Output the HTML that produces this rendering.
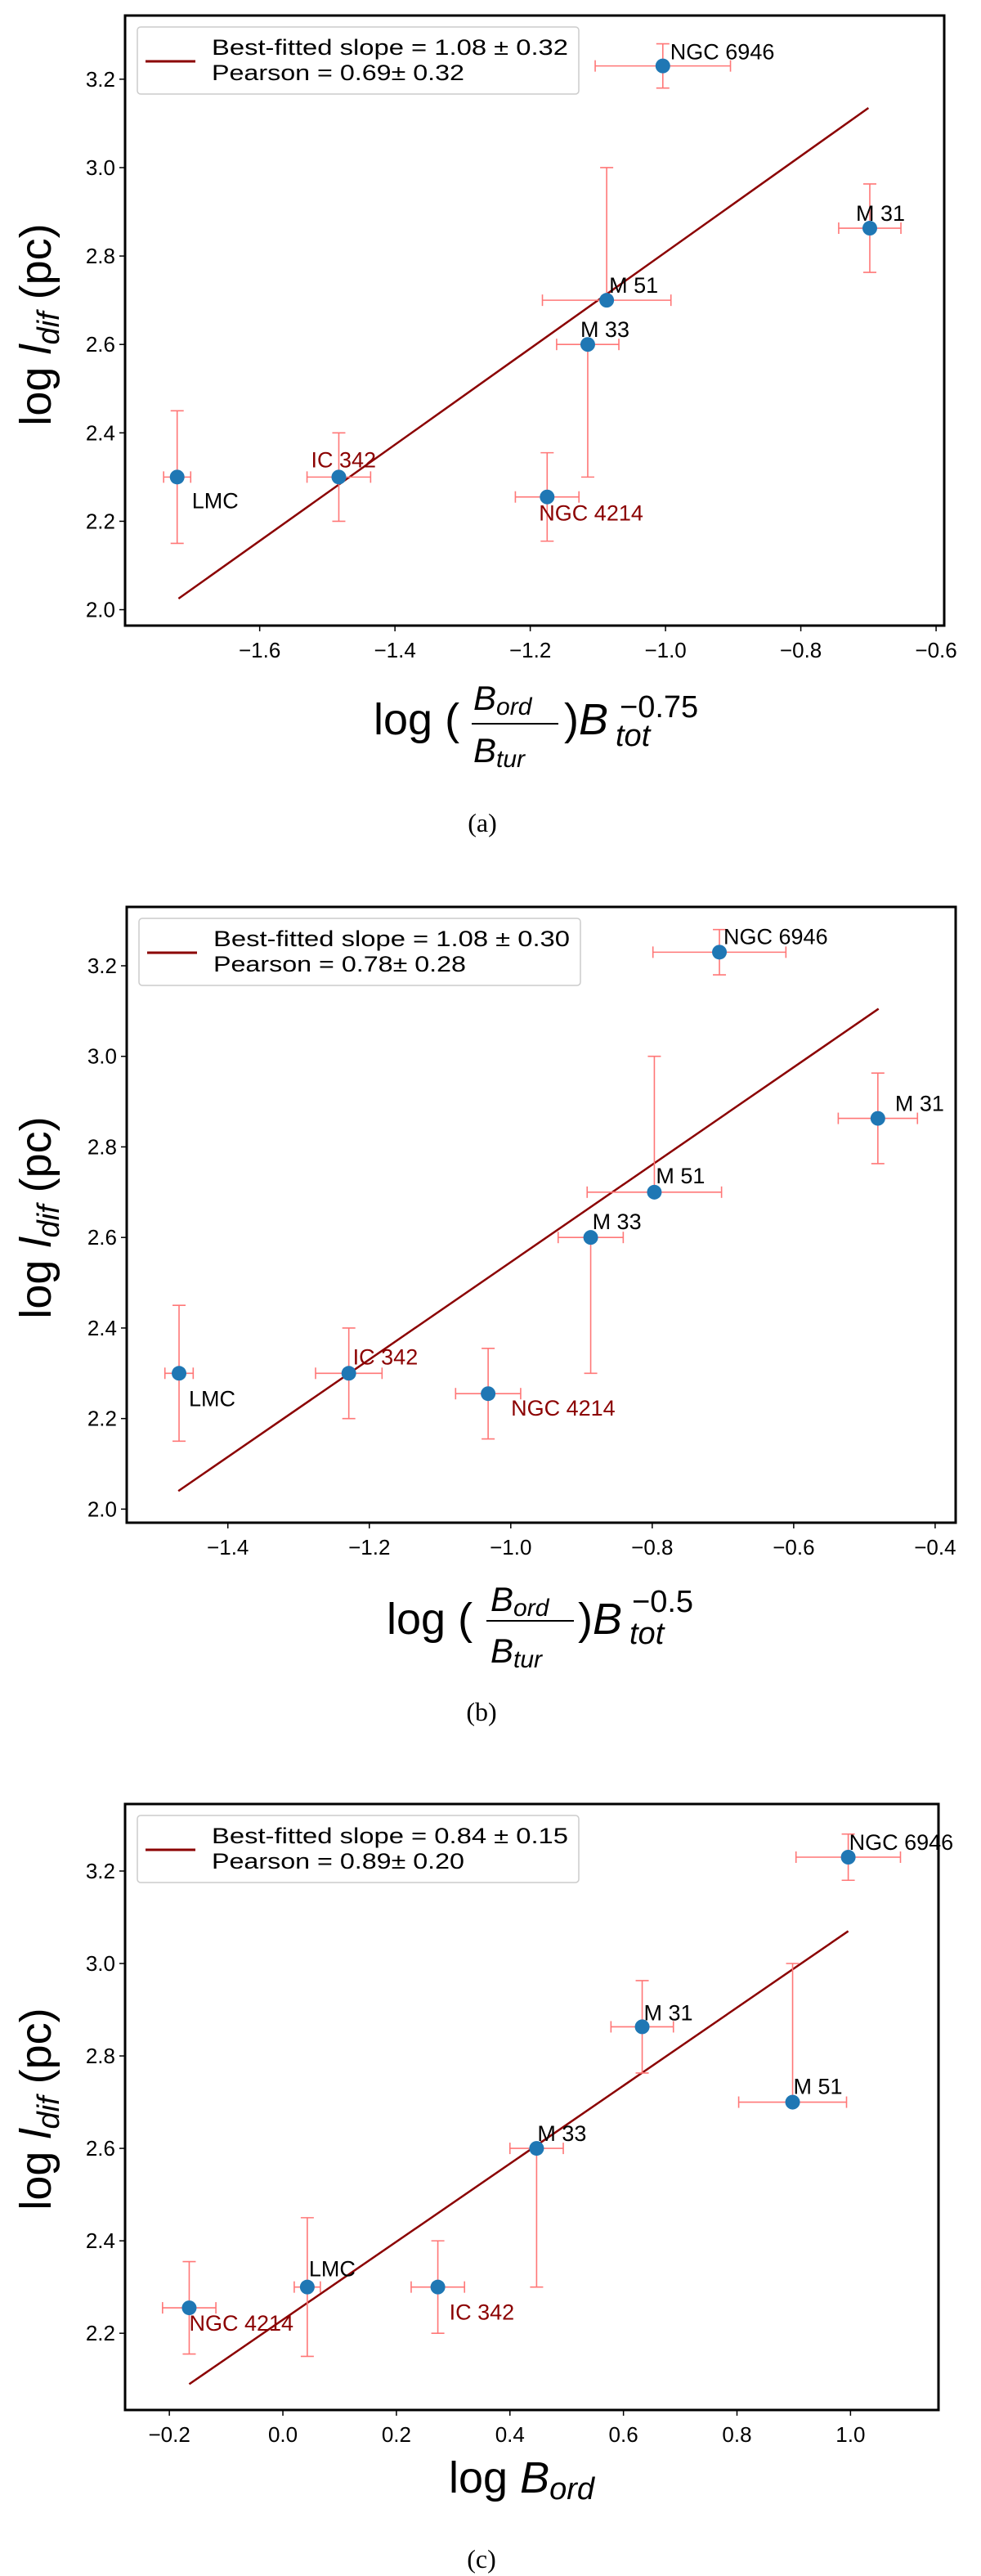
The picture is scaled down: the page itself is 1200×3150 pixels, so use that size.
<!DOCTYPE html>
<html><head><meta charset="utf-8"><style>
html,body{margin:0;padding:0;background:#fff;}
svg{display:block;font-family:"Liberation Sans","DejaVu Sans",sans-serif;}
</style></head><body>
<svg id="fig" width="1200" height="3150" viewBox="0 0 1200 3150" xmlns="http://www.w3.org/2000/svg"></svg>
<script>
// ---------- data ----------
const galaxiesA = ["LMC","IC 342","NGC 4214","M 33","M 51","NGC 6946","M 31"];
const xA   = [-1.722,-1.483,-1.175,-1.115,-1.087,-1.004,-0.698];
const yA   = [2.30,2.30,2.255,2.60,2.70,3.23,2.863];
const xerrA= [0.02,0.047,0.047,0.046,0.095,0.10,0.046];
const yLoA = [0.15,0.10,0.10,0.30,0.0,0.05,0.10];
const yHiA = [0.15,0.10,0.10,0.0,0.30,0.05,0.10];
const fitXA = [-1.72,-0.70];
const fitYA = [2.025,3.135];
const legendA = ["Best-fitted slope = 1.08 \u00b1 0.32","Pearson = 0.69\u00b1 0.32"];

const galaxiesB = ["LMC","IC 342","NGC 4214","M 33","M 51","NGC 6946","M 31"];
const xB   = [-1.469,-1.229,-1.032,-0.887,-0.797,-0.705,-0.481];
const yB   = [2.30,2.30,2.255,2.60,2.70,3.23,2.863];
const xerrB= [0.02,0.047,0.046,0.046,0.095,0.094,0.056];
const yLoB = [0.15,0.10,0.10,0.30,0.0,0.05,0.10];
const yHiB = [0.15,0.10,0.10,0.0,0.30,0.05,0.10];
const fitXB = [-1.47,-0.48];
const fitYB = [2.04,3.105];
const legendB = ["Best-fitted slope = 1.08 \u00b1 0.30","Pearson = 0.78\u00b1 0.28"];

const galaxiesC = ["NGC 4214","LMC","IC 342","M 33","M 31","M 51","NGC 6946"];
const xC   = [-0.165,0.043,0.273,0.447,0.633,0.898,0.996];
const yC   = [2.255,2.30,2.30,2.60,2.863,2.70,3.23];
const xerrC= [0.047,0.023,0.047,0.047,0.055,0.095,0.092];
const yLoC = [0.10,0.15,0.10,0.30,0.10,0.0,0.05];
const yHiC = [0.10,0.15,0.10,0.0,0.10,0.30,0.05];
const fitXC = [-0.165,0.996];
const fitYC = [2.09,3.07];
const legendC = ["Best-fitted slope = 0.84 \u00b1 0.15","Pearson = 0.89\u00b1 0.20"];

const yTicks = [2.0,2.2,2.4,2.6,2.8,3.0,3.2];
const xTicksA = [-1.6,-1.4,-1.2,-1.0,-0.8,-0.6];
const xTicksB = [-1.4,-1.2,-1.0,-0.8,-0.6,-0.4];
const xTicksC = [-0.2,0.0,0.2,0.4,0.6,0.8,1.0];

// ---------- layout (not data) ----------
const labelOffA = [[18,38],[-34,-12],[-10,29],[-9,-9],[3,-9],[9,-8],[-17,-9]];
const labelOffB = [[12,40],[5,-11],[28,27],[2,-10],[2,-11],[5,-10],[21,-9]];
const labelOffC = [[0,28],[2,-13],[14,40],[1,-9],[2,-8],[1,-10],[1,-9]];
const darkLabels = ["IC 342","NGC 4214"];
const legendWidths = [436,309];

const NS="http://www.w3.org/2000/svg";
const svg=document.getElementById('fig');
function mk(tag,attrs,parent){const e=document.createElementNS(NS,tag);for(const k in attrs)e.setAttribute(k,attrs[k]);(parent||svg).appendChild(e);return e;}
function fmt(v){const s=v.toFixed(1);return v<0?'\u2212'+s.slice(1):s;}

function panel(p){
  const g=mk('g',{});
  
  
  const X=v=>p.L+(v-p.x0)/(p.x1-p.x0)*(p.R-p.L);
  const Y=v=>p.B-(v-p.y0)/(p.y1-p.y0)*(p.B-p.T);
  p.yt.forEach(t=>{
    if(t<p.y0)return;
    const y=Y(t);
    const l=mk('line',{x1:p.L-7,x2:p.L,y1:y,y2:y,stroke:'#000','stroke-width':1.5},g);
    
    
    const tx=mk('text',{x:p.L-12,y:y+9,'font-size':26,'text-anchor':'end',fill:'#000'},g);
    tx.textContent=t.toFixed(1);
    
    
  });
  p.xt.forEach(t=>{
    const x=X(t);
    const l=mk('line',{x1:x,x2:x,y1:p.B,y2:p.B+7,stroke:'#000','stroke-width':1.5},g);
    
    
    const tx=mk('text',{x:x,y:p.B+39,'font-size':26,'text-anchor':'middle',fill:'#000'},g);
    tx.textContent=fmt(t);
    
    
  });
  const fl=mk('line',{x1:X(p.fx[0]),y1:Y(p.fy[0]),x2:X(p.fx[1]),y2:Y(p.fy[1]),stroke:'#8b0000','stroke-width':2.5},g);
  
  
  const ec='#f77';
  p.xs.forEach((xv,i)=>{
    const cx=X(xv),cy=Y(p.ys[i]);
    const eg=mk('g',{stroke:ec,'stroke-width':1.6,fill:'none'},g);
    
    
    const xl=X(xv-p.xe[i]),xr=X(xv+p.xe[i]);
    mk('line',{x1:xl,x2:xr,y1:cy,y2:cy},eg);
    mk('line',{x1:xl,x2:xl,y1:cy-7,y2:cy+7},eg);
    mk('line',{x1:xr,x2:xr,y1:cy-7,y2:cy+7},eg);
    const yt=Y(p.ys[i]+p.yh[i]),yb=Y(p.ys[i]-p.yl[i]);
    mk('line',{x1:cx,x2:cx,y1:yt,y2:yb},eg);
    mk('line',{x1:cx-8,x2:cx+8,y1:yt,y2:yt},eg);
    mk('line',{x1:cx-8,x2:cx+8,y1:yb,y2:yb},eg);
  });
  p.xs.forEach((xv,i)=>{
    const c=mk('ellipse',{cx:X(xv),cy:Y(p.ys[i]),rx:9,ry:9,fill:'#1f77b4'},g);
    
    
    const o=p.off[i];
    const t=mk('text',{x:X(xv)+o[0],y:Y(p.ys[i])+o[1],'font-size':27,fill:darkLabels.includes(p.names[i])?'#8b0000':'#000'},g);
    t.textContent=p.names[i];
    
    
  });
  const fr=mk('rect',{x:p.L,y:p.T,width:p.R-p.L,height:p.B-p.T,fill:'none',stroke:'#000','stroke-width':3},g);
  
  
  const lg=mk('g',{},g);
  
  
  mk('rect',{x:p.L+15,y:p.T+14,width:540,height:82,rx:4,fill:'#fff',stroke:'#ccc','stroke-width':1.5},lg);
  mk('line',{x1:p.L+25,x2:p.L+86,y1:p.T+56,y2:p.T+56,stroke:'#8b0000','stroke-width':3},lg);
  p.leg.forEach((s,i)=>{
    const t=mk('text',{x:p.L+106,y:p.T+48+i*31,'font-size':27,fill:'#000',textLength:legendWidths[i],lengthAdjust:'spacingAndGlyphs'},lg);
    t.textContent=s;
    
    
  });
}

panel({name:'panel-a',L:153,R:1155,T:19,B:765,x0:-1.799,x1:-0.588,y0:1.964,y1:3.344,
  xs:xA,ys:yA,xe:xerrA,yl:yLoA,yh:yHiA,fx:fitXA,fy:fitYA,names:galaxiesA,off:labelOffA,leg:legendA,yt:yTicks,xt:xTicksA});
panel({name:'panel-b',L:155,R:1169,T:1109,B:1862,x0:-1.543,x1:-0.371,y0:1.97,y1:3.33,
  xs:xB,ys:yB,xe:xerrB,yl:yLoB,yh:yHiB,fx:fitXB,fy:fitYB,names:galaxiesB,off:labelOffB,leg:legendB,yt:yTicks,xt:xTicksB});
panel({name:'panel-c',L:153,R:1148,T:2206,B:2947,x0:-0.278,x1:1.155,y0:2.034,y1:3.345,
  xs:xC,ys:yC,xe:xerrC,yl:yLoC,yh:yHiC,fx:fitXC,fy:fitYC,names:galaxiesC,off:labelOffC,leg:legendC,yt:yTicks,xt:xTicksC});
</script>
<svg style="position:absolute;left:0;top:0" width="1200" height="3150">
  <g font-family="Liberation Sans, DejaVu Sans, sans-serif" fill="#000">
    <text transform="translate(62,397) rotate(-90)" font-size="54" text-anchor="middle">log <tspan font-style="italic">l</tspan><tspan font-style="italic" font-size="38" dy="10">dif</tspan><tspan dy="-10"> (pc)</tspan></text>
    <text transform="translate(62,1489) rotate(-90)" font-size="54" text-anchor="middle">log <tspan font-style="italic">l</tspan><tspan font-style="italic" font-size="38" dy="10">dif</tspan><tspan dy="-10"> (pc)</tspan></text>
    <text transform="translate(62,2579) rotate(-90)" font-size="54" text-anchor="middle">log <tspan font-style="italic">l</tspan><tspan font-style="italic" font-size="38" dy="10">dif</tspan><tspan dy="-10"> (pc)</tspan></text>
    <g>
      <text x="457" y="898" font-size="54">log (</text>
      <text x="579" y="868" font-size="42" font-style="italic">B<tspan font-size="30" dy="6">ord</tspan></text>
      <line x1="577" x2="683" y1="885" y2="885" stroke="#000" stroke-width="2"/>
      <text x="579" y="932" font-size="42" font-style="italic">B<tspan font-size="30" dy="6">tur</tspan></text>
      <text x="690" y="898" font-size="54">)<tspan font-style="italic">B</tspan></text>
      <text x="758" y="877" font-size="38">−0.75</text>
      <text x="753" y="912" font-size="38" font-style="italic">tot</text>
    </g>
    <text x="590" y="1017" font-size="32" font-family="Liberation Serif, serif" text-anchor="middle">(a)</text>
    <g>
      <text x="473" y="1998" font-size="54">log (</text>
      <text x="600" y="1970" font-size="42" font-style="italic">B<tspan font-size="30" dy="6">ord</tspan></text>
      <line x1="595" x2="702" y1="1982" y2="1982" stroke="#000" stroke-width="2"/>
      <text x="600" y="2033" font-size="42" font-style="italic">B<tspan font-size="30" dy="6">tur</tspan></text>
      <text x="707" y="1998" font-size="54">)<tspan font-style="italic">B</tspan></text>
      <text x="773" y="1971" font-size="38">−0.5</text>
      <text x="770" y="2010" font-size="38" font-style="italic">tot</text>
    </g>
    <text x="589" y="2104" font-size="32" font-family="Liberation Serif, serif" text-anchor="middle">(b)</text>
    <g>
      <text x="549" y="3048" font-size="54">log <tspan font-style="italic">B</tspan><tspan font-style="italic" font-size="38" dy="8">ord</tspan></text>
    </g>
    <text x="589" y="3140" font-size="32" font-family="Liberation Serif, serif" text-anchor="middle">(c)</text>
  </g>
</svg>
</body></html>
